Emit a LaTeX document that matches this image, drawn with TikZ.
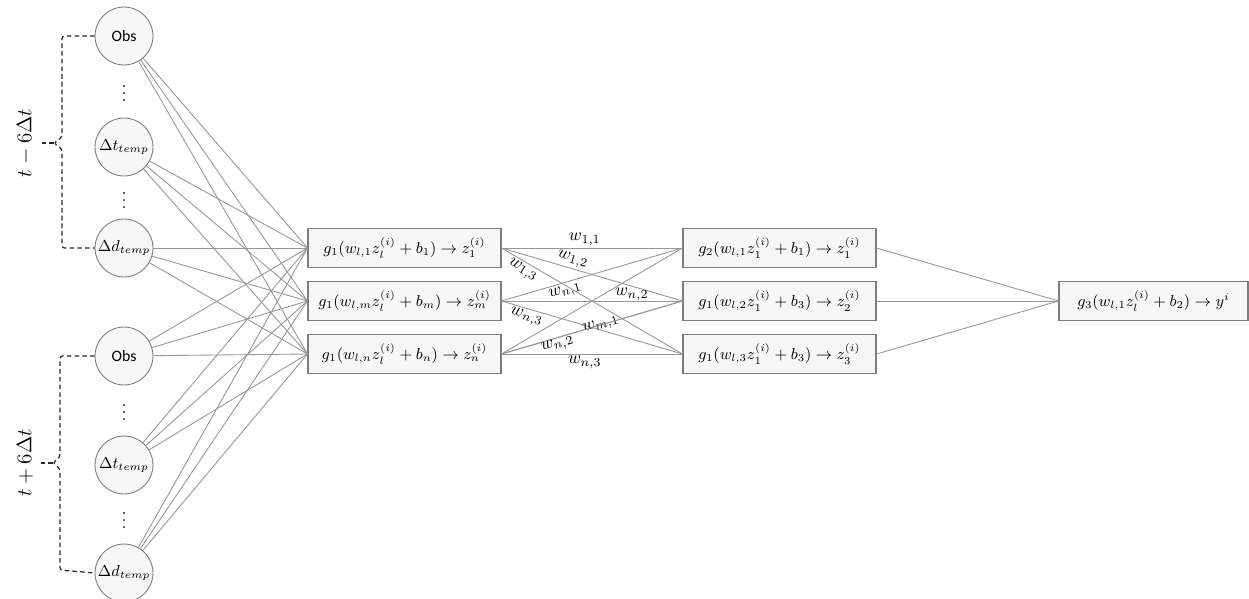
\documentclass[tikz,border=0pt]{standalone}
\usepackage{amsmath,amssymb}
\usepackage{fontspec}
\usepackage{xcolor}
\usepackage{tikz}
\usetikzlibrary{positioning,calc}
\newfontfamily\carlito{Carlito}
\definecolor{edgegray}{RGB}{150,150,150}
\definecolor{rimgray}{RGB}{125,125,125}
\definecolor{paper}{RGB}{247,247,247}
\definecolor{dashink}{RGB}{40,40,40}

\begin{document}
\begin{tikzpicture}[font=\small, x=0.02cm, y=-0.02cm,
    neuron/.style={circle, draw=rimgray, fill=paper, line width=0.5pt, minimum size=1.16cm, inner sep=0pt},
    unit/.style={rectangle, draw=rimgray, fill=paper, line width=0.6pt, minimum width=3.86cm, minimum height=0.78cm, inner sep=0pt},
    edge/.style={draw=edgegray, line width=0.5pt},
    wlab/.style={inner sep=1pt, font=\normalsize},
    skip/.style={inner sep=0pt, font=\normalsize},
    bracket/.style={draw=dashink, line width=0.7pt, dash pattern=on 2.6pt off 1.8pt, rounded corners=1.5pt}]
  \useasboundingbox (0,0) rectangle (1249,599);
  % ---- inputs, two time windows ----
  \node[neuron] (obsA) at (124,36)  {\carlito Obs};
  \node[skip]   (dotA) at (124,88)  {$\vdots$};
  \node[neuron] (dtA)  at (124,147) {$\Delta t_{temp}$};
  \node[skip]   (dotB) at (124,195) {$\vdots$};
  \node[neuron] (ddA)  at (124,248) {$\Delta d_{temp}$};
  \node[neuron] (obsB) at (124,356) {\carlito Obs};
  \node[skip]   (dotC) at (124,407) {$\vdots$};
  \node[neuron] (dtB)  at (124,465) {$\Delta t_{temp}$};
  \node[skip]   (dotD) at (124,515) {$\vdots$};
  \node[neuron] (ddB)  at (124,573) {$\Delta d_{temp}$};
  % window labels with dashed brackets
  \node[rotate=90, font=\fontsize{13}{15}\selectfont] (winA) at (25,143) {$t-6\Delta t$};
  \node[rotate=90, font=\fontsize{13}{15}\selectfont] (winB) at (25,463) {$t+6\Delta t$};
  \coordinate (tipA) at (54,143);
  \coordinate (tipB) at (53,463);
  \draw[bracket] (obsA.west) -- (62,36) -- (62,137) -- (tipA) -- (62,149) -- (62,248) -- (ddA.west);
  \draw[bracket] (tipA) -- (winA.south);
  \draw[bracket] (obsB.west) -- (60,356) -- (60,457) -- (tipB) -- (60,469) -- (60,570) -- (ddB.west);
  \draw[bracket] (tipB) -- (winB.south);
  % ---- first hidden layer ----
  \node[unit] (hA) at (404.5,248) {$g_1(w_{l,1}z_l^{(i)}+b_1)\rightarrow z_1^{(i)}$};
  \node[unit] (hM) at (404.5,301) {$g_1(w_{l,m}z_l^{(i)}+b_m)\rightarrow z_m^{(i)}$};
  \node[unit] (hN) at (404.5,354) {$g_1(w_{l,n}z_l^{(i)}+b_n)\rightarrow z_n^{(i)}$};
  % ---- second hidden layer ----
  \node[unit] (kA) at (779.5,248) {$g_2(w_{l,1}z_1^{(i)}+b_1)\rightarrow z_1^{(i)}$};
  \node[unit] (kB) at (779.5,301) {$g_1(w_{l,2}z_1^{(i)}+b_3)\rightarrow z_2^{(i)}$};
  \node[unit] (kC) at (779.5,354) {$g_1(w_{l,3}z_1^{(i)}+b_3)\rightarrow z_3^{(i)}$};
  % ---- output ----
  \node[unit, minimum width=3.78cm] (out) at (1153.5,301) {$g_3(w_{l,1}z_l^{(i)}+b_2)\rightarrow y^i$};
  % ---- connections ----
  \foreach \c in {obsA,dtA,ddA,obsB,dtB,ddB}
    \foreach \h in {hA,hM,hN}
      \draw[edge] (\c) -- (\h.west);
  \draw[edge] (hA.east) -- node[wlab, above, pos=0.46] {$w_{1,1}$} (kA.west);
  \draw[edge] (hA.east) -- node[wlab, above, sloped, pos=0.38] {$w_{1,2}$} (kB.west);
  \draw[edge] (hA.east) -- node[wlab, below, sloped, pos=0.14] {$w_{1,3}$} (kC.west);
  \draw[edge] (hM.east) -- node[wlab, below, sloped, pos=0.34] {$w_{n,1}$} (kA.west);
  \draw[edge] (hM.east) -- node[wlab, above, pos=0.72, inner sep=0pt] {$w_{n,2}$} (kB.west);
  \draw[edge] (hM.east) -- node[wlab, below, sloped, pos=0.15] {$w_{n,3}$} (kC.west);
  \draw[edge] (hN.east) -- (kA.west);
  \draw[edge] (hN.east) -- node[wlab, sloped, pos=0.55, inner sep=0pt] {$w_{m,1}$} (kB.west);
  \draw[edge] (hN.east) -- node[wlab, below, sloped, pos=0.3, inner sep=0pt] {$w_{n,2}$} (kB.west);
  \draw[edge] (hN.east) -- node[wlab, below, pos=0.46] {$w_{n,3}$} (kC.west);
  \foreach \k in {kA,kB,kC}
    \draw[edge] (\k.east) -- (out.west);
\end{tikzpicture}
\end{document}
